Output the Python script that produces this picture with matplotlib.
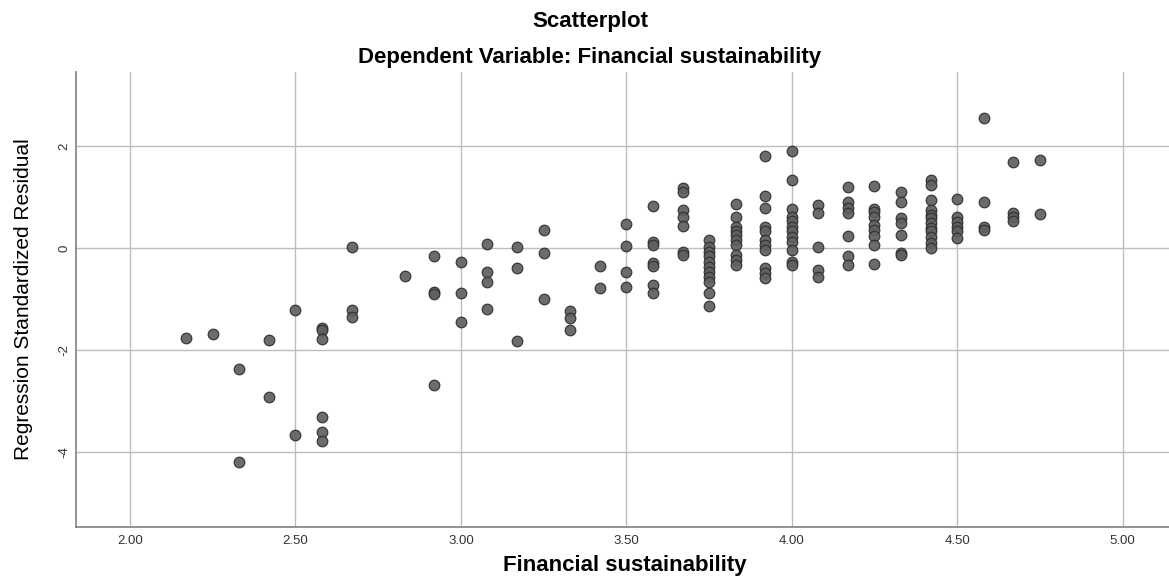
import matplotlib
matplotlib.use("Agg")
import matplotlib.pyplot as plt

plt.rcParams['font.family'] = ['Liberation Sans', 'DejaVu Sans']

# Financial sustainability (x) and regression standardized residual (y)
fin_sust = (
    [2.17] + [2.25] + [2.33] * 2 + [2.42] * 2 + [2.50] * 2 + [2.58] * 6 + [2.67] * 3
    + [2.83] + [2.92] * 4 + [3.00] * 3 + [3.08] * 4 + [3.17] * 3 + [3.25] * 3
    + [3.33] * 3 + [3.42] * 2 + [3.50] * 4 + [3.58] * 7 + [3.67] * 7 + [3.75] * 11
    + [3.83] * 10 + [3.92] * 11 + [4.00] * 12 + [4.08] * 5 + [4.17] * 7 + [4.25] * 9
    + [4.33] * 7 + [4.42] * 12 + [4.50] * 6 + [4.58] * 4 + [4.67] * 4 + [4.75] * 2
)
residuals = [
    -1.77,
    -1.69,
    -2.37, -4.20,
    -1.80, -2.91,
    -1.22, -3.67,
    -1.57, -1.60, -1.78, -3.32, -3.60, -3.78,
    0.02, -1.22, -1.34,
    -0.54,
    -0.15, -0.85, -0.90, -2.69,
    -0.26, -0.88, -1.45,
    0.08, -0.46, -0.67, -1.19,
    0.03, -0.39, -1.81,
    0.35, -0.09, -0.99,
    -1.23, -1.36, -1.60,
    -0.35, -0.78,
    0.48, 0.05, -0.46, -0.76,
    0.83, 0.13, 0.06, -0.28, -0.35, -0.72, -0.88,
    1.18, 1.11, 0.75, 0.61, 0.44, -0.07, -0.13,
    0.16, 0.03, -0.07, -0.16, -0.26, -0.36, -0.46, -0.56, -0.66, -0.88, -1.13,
    0.87, 0.62, 0.41, 0.33, 0.26, 0.16, 0.06, -0.13, -0.23, -0.33,
    1.81, 1.03, 0.80, 0.42, 0.33, 0.16, 0.06, -0.03, -0.39, -0.49, -0.59,
    1.91, 1.34, 0.77, 0.61, 0.54, 0.42, 0.33, 0.23, 0.13, -0.03, -0.26, -0.33,
    0.85, 0.69, 0.02, -0.43, -0.56,
    1.21, 0.91, 0.80, 0.69, 0.24, -0.16, -0.33,
    1.22, 0.78, 0.72, 0.61, 0.46, 0.36, 0.24, 0.06, -0.31,
    1.10, 0.91, 0.59, 0.50, 0.26, -0.10, -0.13,
    1.35, 1.24, 0.95, 0.75, 0.65, 0.59, 0.49, 0.39, 0.33, 0.23, 0.10, 0.00,
    0.96, 0.62, 0.52, 0.42, 0.33, 0.21,
    2.55, 0.90, 0.42, 0.36,
    1.69, 0.69, 0.62, 0.54,
    1.73, 0.67,
]

x_ticks = [2.0, 2.5, 3.0, 3.5, 4.0, 4.5, 5.0]
x_tick_labels = ["2.00", "2.50", "3.00", "3.50", "4.00", "4.50", "5.00"]
y_ticks = [2, 0, -2, -4]
y_tick_labels = ["2", "0", "-2", "-4"]

W, H = 1169, 588
fig = plt.figure(figsize=(W / 100, H / 100), dpi=100)
ax = fig.add_axes([76 / W, (H - 527) / H, (W - 76) / W, (527 - 72) / H])

ax.scatter(fin_sust, residuals, s=58, facecolor='#606060', edgecolor='#303030',
           linewidth=0.9, alpha=0.92, zorder=3)

ax.set_xlim(1.837, 5.14)
ax.set_ylim(-5.47, 3.46)
ax.set_xticks(x_ticks)
ax.set_xticklabels(x_tick_labels, fontsize=9.5, color='#333333')
ax.set_yticks(y_ticks)
ax.set_yticklabels(y_tick_labels, fontsize=9.5, color='#333333', rotation=90, va='center')
ax.tick_params(axis='x', length=0, pad=6)
ax.tick_params(axis='y', length=0, pad=4)

ax.grid(True, color='#bdbdbd', linewidth=1.0, zorder=0)
ax.set_axisbelow(True)
for side in ['top', 'right']:
    ax.spines[side].set_visible(False)
for side in ['left', 'bottom']:
    ax.spines[side].set_color('#808080')
    ax.spines[side].set_linewidth(1.2)

ax.set_xlabel("Financial sustainability", fontsize=16, fontweight='bold', va='center')
ax.xaxis.set_label_coords((625 - 76) / 1093, (527 - 566) / 455)
ax.set_ylabel("Regression Standardized Residual", fontsize=15, va='center')
ax.yaxis.set_label_coords((24 - 76) / 1093, 0.5)

fig.text(590 / W, 1 - 21 / H, "Scatterplot", ha='center', va='center',
         fontsize=16, fontweight='bold')
fig.text(590 / W, 1 - 58 / H, "Dependent Variable: Financial sustainability",
         ha='center', va='center', fontsize=16, fontweight='bold')

fig.savefig("out.png", dpi=100)
